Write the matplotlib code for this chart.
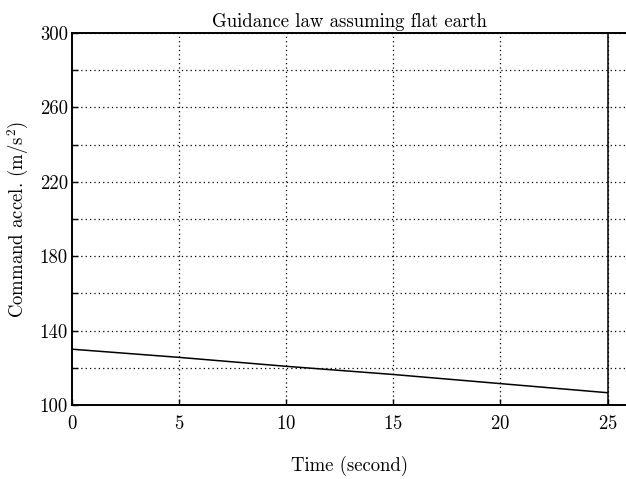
import matplotlib
matplotlib.use("Agg")
from matplotlib import pyplot as plt

# values
time_s = [0, 5, 10, 15, 20, 25]
accel = [130.0, 125.6, 120.8, 116.4, 111.5, 106.6]
xticks = [0, 5, 10, 15, 20, 25]
yticks_major = [100, 140, 180, 220, 260, 300]
ygrid = [100, 120, 140, 160, 180, 200, 220, 240, 260, 280, 300]

plt.rcParams['font.family'] = ['cmr10', 'DejaVu Serif']
plt.rcParams['axes.formatter.use_mathtext'] = True
plt.rcParams['mathtext.fontset'] = 'cm'

fig = plt.figure(figsize=(6.26, 4.79), dpi=100)
ax = fig.add_axes([0.115, 0.1545, 0.888, 0.7766])

ax.plot(time_s, accel, color='black', lw=1.1)
ax.axvline(25, color='black', lw=1.1)

ax.set_xlim(0, 25.95)
ax.set_ylim(100, 300)
ax.set_xticks(xticks)
ax.set_yticks(ygrid)
ax.set_yticklabels([str(v) if v in yticks_major else '' for v in ygrid])

# dotted grid
for v in xticks[1:]:
    ax.axvline(v, color='black', lw=0.9, ls=(0, (1, 2.5)))
for v in ygrid[1:]:
    ax.axhline(v, color='black', lw=0.9, ls=(0, (1, 2.5)))

ax.tick_params(direction='in', length=4, width=1, labelsize=13.5, pad=7)
ax.tick_params(axis='y', pad=3)
for s in ['left', 'bottom', 'top']:
    ax.spines[s].set_linewidth(1.4)
ax.spines['right'].set_visible(False)

ax.set_title('Guidance law assuming flat earth', fontsize=13.5, pad=4)
ax.set_xlabel('Time (second)', fontsize=13.5, labelpad=17)
ax.set_ylabel(r'Command accel. (m/s$^2$)', fontsize=13.5, labelpad=6)

fig.savefig('out.png', dpi=100)
